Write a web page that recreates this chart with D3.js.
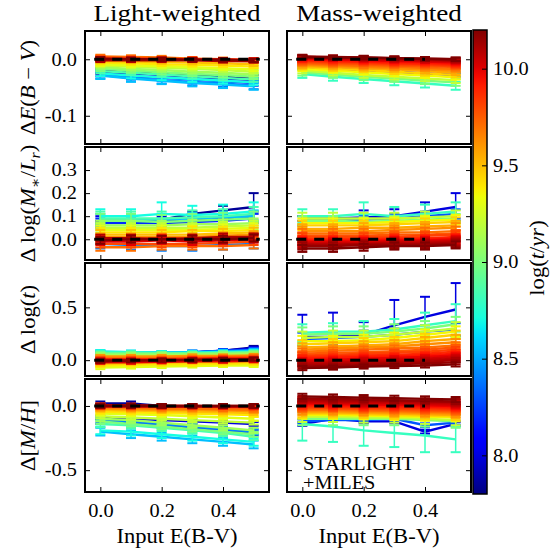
<!DOCTYPE html>
<html>
<head>
<meta charset="utf-8">
<script src="https://cdn.jsdelivr.net/npm/d3@7"></script>
<style>
  body { margin: 0; background: #fff; }
  svg, svg text { font-family: "Liberation Serif", "Tinos", "Times New Roman", "DejaVu Serif", serif; }
</style>
</head>
<body>
<svg id="chart" width="550" height="553"></svg>
<script>
// ---- data ----
const inputEBV = [0.0, 0.1, 0.2, 0.3, 0.4, 0.5];
const ebvTicks = [0.0, 0.2, 0.4];
const cbarTicks = [8.0, 8.5, 9.0, 9.5, 10.0];
const ticksEBV = [-0.1, 0.0];
const ticksML = [0.0, 0.1, 0.2, 0.3];
const ticksT = [0.0, 0.5];
const ticksMH = [-0.5, 0.0];
const zeroLineLight = [-0.02, 0.52];
const zeroLineMass = [-0.02, 0.40];

// log(t/yr) of each mock, one per line
const lightAges = [7.85, 8.0, 8.2, 8.4, 8.55, 8.7, 8.85, 9.0, 9.1, 9.2, 9.3, 9.4, 9.5, 9.6, 9.7, 9.8, 9.9, 10.0, 10.1, 10.2];
const massAges = [8.0, 8.3, 8.8, 9.0, 9.2, 9.35, 9.45, 9.55, 9.62, 9.7, 9.76, 9.82, 9.88, 9.93, 9.98, 10.03, 10.07, 10.11, 10.15, 10.2];

// light-weighted, Delta E(B-V)
const lightEBV = [
  [-0.020, -0.022, -0.025, -0.027, -0.030, -0.032],
  [-0.022, -0.025, -0.028, -0.031, -0.034, -0.037],
  [-0.025, -0.030, -0.033, -0.036, -0.039, -0.042],
  [-0.028, -0.033, -0.037, -0.040, -0.043, -0.047],
  [-0.029, -0.034, -0.038, -0.042, -0.045, -0.048],
  [-0.025, -0.029, -0.032, -0.035, -0.038, -0.041],
  [-0.021, -0.024, -0.027, -0.030, -0.033, -0.036],
  [-0.017, -0.020, -0.023, -0.026, -0.028, -0.031],
  [-0.014, -0.017, -0.019, -0.022, -0.024, -0.027],
  [-0.011, -0.013, -0.015, -0.017, -0.019, -0.022],
  [-0.009, -0.011, -0.012, -0.014, -0.016, -0.018],
  [-0.006, -0.007, -0.009, -0.010, -0.011, -0.013],
  [-0.003, -0.004, -0.005, -0.006, -0.007, -0.009],
  [0.003, 0.002, 0.000, -0.001, -0.002, -0.004],
  [0.005, 0.004, 0.003, 0.001, 0.000, -0.002],
  [0.003, 0.002, 0.001, 0.000, -0.001, -0.002],
  [0.001, 0.001, 0.000, 0.000, -0.001, -0.001],
  [0.000, 0.000, 0.000, -0.001, -0.001, -0.002],
  [-0.002, -0.002, -0.002, -0.002, -0.003, -0.003],
  [0.001, 0.000, 0.000, -0.001, -0.001, -0.002]
];
const errLightEBV = [0.004, 0.004, 0.005, 0.006, 0.006, 0.005, 0.004, 0.004, 0.003, 0.003,
  0.003, 0.003, 0.003, 0.003, 0.003, 0.003, 0.003, 0.003, 0.003, 0.003];

// light-weighted, Delta log(M*/Lr)
const lightML = [
  [0.075, 0.080, 0.085, 0.110, 0.125, 0.140],
  [0.080, 0.080, 0.080, 0.085, 0.090, 0.100],
  [0.070, 0.070, 0.070, 0.075, 0.080, 0.090],
  [-0.020, -0.025, -0.030, -0.030, -0.025, -0.020],
  [0.085, 0.085, 0.085, 0.090, 0.095, 0.100],
  [0.100, 0.100, 0.110, 0.105, 0.110, 0.120],
  [0.090, 0.090, 0.090, 0.095, 0.100, 0.110],
  [0.080, 0.080, 0.075, 0.080, 0.085, 0.090],
  [0.060, 0.060, 0.060, 0.065, 0.065, 0.070],
  [0.050, 0.050, 0.050, 0.050, 0.055, 0.060],
  [0.040, 0.040, 0.040, 0.040, 0.045, 0.050],
  [0.030, 0.030, 0.030, 0.035, 0.035, 0.040],
  [0.020, 0.020, 0.020, 0.020, 0.025, 0.030],
  [0.010, 0.010, 0.010, 0.010, 0.015, 0.020],
  [-0.035, -0.035, -0.030, -0.030, -0.030, -0.025],
  [-0.020, -0.020, -0.020, -0.020, -0.015, -0.010],
  [0.000, 0.000, 0.005, 0.000, 0.005, 0.010],
  [-0.010, -0.010, -0.005, -0.010, -0.005, 0.000],
  [0.005, 0.005, 0.000, 0.005, 0.010, 0.010],
  [-0.005, 0.000, 0.000, 0.000, 0.000, 0.005]
];
const errLightML = [[0.005, 0.005, 0.005, 0.01, 0.02, 0.06], 0.02, 0.02, 0.02, 0.025,
  [0.03, 0.03, 0.05, 0.04, 0.04, 0.04], 0.03, 0.03, 0.02, 0.02,
  0.02, 0.02, 0.02, 0.015, 0.015, 0.015, 0.015, 0.015, 0.015, 0.015];

// light-weighted, Delta log(t)
const lightT = [
  [0.050, 0.050, 0.060, 0.070, 0.090, 0.120],
  [0.050, 0.055, 0.060, 0.070, 0.090, 0.110],
  [0.060, 0.060, 0.065, 0.075, 0.090, 0.100],
  [0.070, 0.070, 0.070, 0.075, 0.085, 0.095],
  [0.080, 0.075, 0.070, 0.075, 0.080, 0.090],
  [0.080, 0.075, 0.070, 0.070, 0.075, 0.080],
  [0.070, 0.070, 0.065, 0.065, 0.070, 0.075],
  [0.060, 0.060, 0.060, 0.060, 0.065, 0.070],
  [0.050, 0.050, 0.050, 0.050, 0.055, 0.060],
  [-0.055, -0.050, -0.045, -0.040, -0.040, -0.035],
  [-0.070, -0.065, -0.060, -0.055, -0.050, -0.050],
  [-0.050, -0.045, -0.040, -0.040, -0.035, -0.030],
  [-0.035, -0.030, -0.025, -0.020, -0.020, -0.015],
  [0.035, 0.035, 0.035, 0.040, 0.040, 0.045],
  [0.020, 0.020, 0.020, 0.025, 0.030, 0.035],
  [-0.010, -0.010, -0.005, 0.000, 0.000, 0.005],
  [0.010, 0.010, 0.010, 0.015, 0.020, 0.020],
  [-0.020, -0.020, -0.015, -0.010, -0.010, -0.005],
  [0.000, 0.000, 0.000, 0.005, 0.010, 0.010],
  [-0.010, -0.005, 0.000, 0.000, 0.005, 0.010]
];
const errLightT = [0.015, 0.015, 0.015, 0.015, 0.015, 0.015, 0.015, 0.015, 0.015, 0.015,
  0.015, 0.015, 0.015, 0.015, 0.015, 0.015, 0.015, 0.015, 0.015, 0.015];

// light-weighted, Delta [M/H]
const lightMH = [
  [0.020, 0.020, 0.000, -0.005, -0.005, -0.005],
  [-0.090, -0.100, -0.110, -0.120, -0.130, -0.140],
  [-0.120, -0.130, -0.150, -0.170, -0.190, -0.210],
  [-0.110, -0.120, -0.140, -0.160, -0.180, -0.200],
  [-0.200, -0.220, -0.240, -0.260, -0.280, -0.300],
  [-0.190, -0.200, -0.220, -0.240, -0.260, -0.280],
  [-0.140, -0.150, -0.170, -0.190, -0.210, -0.240],
  [-0.120, -0.140, -0.160, -0.180, -0.200, -0.220],
  [-0.100, -0.110, -0.130, -0.150, -0.170, -0.190],
  [-0.080, -0.090, -0.100, -0.110, -0.120, -0.130],
  [-0.060, -0.065, -0.070, -0.080, -0.090, -0.100],
  [-0.045, -0.050, -0.055, -0.060, -0.065, -0.070],
  [-0.030, -0.035, -0.040, -0.045, -0.050, -0.055],
  [-0.020, -0.025, -0.030, -0.030, -0.035, -0.040],
  [-0.010, -0.015, -0.020, -0.020, -0.025, -0.030],
  [0.005, 0.000, -0.005, -0.005, -0.010, -0.015],
  [0.000, 0.000, 0.000, 0.000, -0.005, -0.005],
  [-0.005, -0.005, -0.005, -0.005, -0.005, -0.005],
  [0.005, 0.005, 0.000, 0.000, 0.000, 0.000],
  [0.000, 0.000, 0.000, 0.000, 0.000, 0.000]
];
const errLightMH = [[0.015, 0.015, 0.005, 0.005, 0.005, 0.005], 0.015, 0.02, 0.02, 0.03, 0.03, 0.025, 0.02, 0.02, 0.015,
  0.015, 0.015, 0.015, 0.015, 0.015, 0.015, 0.015, 0.015, 0.015, 0.015];

// mass-weighted, Delta E(B-V)
const massEBV = [
  [-0.014, -0.017, -0.019, -0.022, -0.025, -0.028],
  [-0.010, -0.012, -0.014, -0.016, -0.018, -0.020],
  [-0.026, -0.031, -0.035, -0.039, -0.043, -0.047],
  [-0.023, -0.027, -0.031, -0.034, -0.038, -0.041],
  [-0.020, -0.024, -0.028, -0.031, -0.034, -0.037],
  [-0.017, -0.020, -0.023, -0.026, -0.029, -0.032],
  [-0.014, -0.017, -0.019, -0.022, -0.025, -0.028],
  [-0.012, -0.014, -0.016, -0.018, -0.021, -0.024],
  [-0.010, -0.012, -0.014, -0.016, -0.018, -0.020],
  [-0.008, -0.010, -0.012, -0.013, -0.015, -0.017],
  [-0.006, -0.008, -0.009, -0.011, -0.012, -0.014],
  [-0.004, -0.006, -0.007, -0.009, -0.010, -0.012],
  [-0.002, -0.004, -0.005, -0.007, -0.008, -0.010],
  [-0.001, -0.002, -0.004, -0.005, -0.006, -0.008],
  [0.001, 0.000, -0.002, -0.003, -0.004, -0.006],
  [0.002, 0.001, 0.000, -0.002, -0.003, -0.004],
  [0.003, 0.002, 0.001, 0.000, -0.001, -0.003],
  [0.004, 0.003, 0.002, 0.001, 0.000, -0.002],
  [0.005, 0.004, 0.003, 0.002, 0.001, 0.000],
  [0.004, 0.003, 0.003, 0.002, 0.001, 0.000]
];
const errMassEBV = [0.003, 0.003, 0.007, 0.006, 0.005, 0.004, 0.004, 0.004, 0.003, 0.003,
  0.003, 0.003, 0.003, 0.003, 0.003, 0.003, 0.003, 0.003, 0.003, 0.003];

// mass-weighted, Delta log(M*/Lr)
const massML = [
  [0.090, 0.090, 0.095, 0.100, 0.120, 0.140],
  [0.080, 0.080, 0.085, 0.090, 0.100, 0.110],
  [0.100, 0.100, 0.110, 0.100, 0.110, 0.120],
  [0.080, 0.080, 0.075, 0.080, 0.085, 0.090],
  [0.090, 0.090, 0.090, 0.090, 0.095, 0.100],
  [0.070, 0.070, 0.070, 0.075, 0.080, 0.085],
  [0.060, 0.060, 0.060, 0.065, 0.070, 0.075],
  [0.045, 0.045, 0.050, 0.050, 0.055, 0.060],
  [0.035, 0.035, 0.035, 0.040, 0.045, 0.050],
  [0.025, 0.025, 0.025, 0.030, 0.030, 0.035],
  [0.015, 0.015, 0.015, 0.020, 0.020, 0.025],
  [0.010, 0.010, 0.010, 0.010, 0.015, 0.020],
  [0.000, 0.000, 0.000, 0.005, 0.005, 0.010],
  [-0.005, -0.005, -0.005, 0.000, 0.000, 0.005],
  [-0.010, -0.010, -0.010, -0.005, -0.005, 0.000],
  [-0.015, -0.015, -0.015, -0.010, -0.010, -0.005],
  [-0.020, -0.020, -0.020, -0.015, -0.015, -0.010],
  [-0.025, -0.025, -0.020, -0.020, -0.020, -0.015],
  [-0.030, -0.030, -0.025, -0.025, -0.025, -0.020],
  [-0.040, -0.040, -0.035, -0.030, -0.030, -0.025]
];
const errMassML = [[0.01, 0.01, 0.03, 0.03, 0.04, 0.06], 0.02, [0.03, 0.03, 0.05, 0.04, 0.04, 0.04], 0.02, 0.025,
  0.02, 0.02, 0.02, 0.02, 0.02, 0.015, 0.015, 0.015, 0.015, 0.015, 0.015, 0.015, 0.015, 0.015, 0.015];

// mass-weighted, Delta log(t)
const massT = [
  [0.220, 0.220, 0.240, 0.330, 0.410, 0.480],
  [0.200, 0.210, 0.220, 0.240, 0.270, 0.290],
  [0.260, 0.270, 0.270, 0.290, 0.330, 0.370],
  [0.240, 0.250, 0.250, 0.270, 0.300, 0.340],
  [0.210, 0.220, 0.220, 0.240, 0.270, 0.300],
  [0.180, 0.180, 0.190, 0.210, 0.240, 0.270],
  [0.150, 0.160, 0.170, 0.180, 0.210, 0.240],
  [0.120, 0.130, 0.140, 0.150, 0.180, 0.200],
  [0.100, 0.110, 0.120, 0.130, 0.150, 0.170],
  [0.080, 0.090, 0.100, 0.110, 0.120, 0.140],
  [0.060, 0.070, 0.075, 0.085, 0.100, 0.120],
  [0.045, 0.050, 0.060, 0.070, 0.080, 0.100],
  [0.030, 0.035, 0.045, 0.050, 0.060, 0.080],
  [0.015, 0.020, 0.030, 0.035, 0.045, 0.060],
  [0.000, 0.005, 0.015, 0.020, 0.030, 0.045],
  [-0.015, -0.010, 0.000, 0.005, 0.015, 0.030],
  [-0.030, -0.025, -0.015, -0.010, 0.000, 0.015],
  [-0.045, -0.040, -0.030, -0.025, -0.015, 0.000],
  [-0.060, -0.055, -0.045, -0.040, -0.030, -0.020],
  [-0.075, -0.070, -0.060, -0.055, -0.050, -0.040]
];
const errMassT = [[0.21, 0.23, 0.12, 0.24, 0.19, 0.25], 0.06, [0.08, 0.08, 0.10, 0.10, 0.12, 0.16], 0.07, 0.06,
  0.05, 0.04, 0.04, 0.03, 0.03, 0.025, 0.025, 0.02, 0.02, 0.02, 0.02, 0.02, 0.02, 0.02, 0.02];

// mass-weighted, Delta [M/H]
const massMH = [
  [-0.140, -0.100, -0.120, -0.120, -0.200, -0.140],
  [-0.120, -0.110, -0.110, -0.100, -0.150, -0.130],
  [-0.140, -0.160, -0.190, -0.210, -0.230, -0.260],
  [-0.100, -0.100, -0.100, -0.100, -0.110, -0.120],
  [-0.085, -0.085, -0.090, -0.090, -0.100, -0.110],
  [-0.070, -0.070, -0.075, -0.080, -0.085, -0.090],
  [-0.060, -0.060, -0.065, -0.070, -0.075, -0.080],
  [-0.050, -0.050, -0.055, -0.060, -0.065, -0.070],
  [-0.040, -0.040, -0.045, -0.050, -0.055, -0.060],
  [-0.030, -0.030, -0.035, -0.040, -0.045, -0.050],
  [-0.020, -0.020, -0.025, -0.030, -0.035, -0.040],
  [-0.010, -0.015, -0.020, -0.020, -0.025, -0.030],
  [0.000, -0.005, -0.010, -0.010, -0.015, -0.020],
  [0.010, 0.005, 0.000, 0.000, -0.005, -0.010],
  [0.020, 0.015, 0.010, 0.010, 0.005, 0.000],
  [0.030, 0.025, 0.020, 0.020, 0.015, 0.010],
  [0.040, 0.035, 0.030, 0.030, 0.025, 0.020],
  [0.050, 0.045, 0.040, 0.040, 0.035, 0.030],
  [0.060, 0.055, 0.050, 0.045, 0.040, 0.035],
  [0.075, 0.070, 0.065, 0.060, 0.055, 0.050]
];
const errMassMH = [0.015, 0.015, [0.13, 0.12, 0.12, 0.11, 0.13, 0.10], 0.05, 0.04,
  0.03, 0.03, 0.025, 0.025, 0.02, 0.02, 0.02, 0.02, 0.02, 0.02, 0.02, 0.02, 0.02, 0.02, 0.02];

// ---- layout ----
const SX = 1.13;               // horizontal stretch of the original lettering
const cols = [[85, 269], [287, 471]];
const rowTops = [31, 147, 263, 379];
const rowH = 113;
const cbar = { x: 473, w: 14, top: 30, bottom: 494 };
const FONT = "'Liberation Serif', Tinos, 'Times New Roman', 'DejaVu Serif', serif";

const rows = [
  { domain: [-0.15, 0.05], ticks: ticksEBV, light: lightEBV, lightErr: errLightEBV, mass: massEBV, massErr: errMassEBV,
    label: [["Δ", ""], ["E", "i"], ["(", ""], ["B", "i"], [" − ", ""], ["V", "i"], [")", ""]] },
  { domain: [-0.09, 0.40], ticks: ticksML, light: lightML, lightErr: errLightML, mass: massML, massErr: errMassML,
    label: [["Δ log(", ""], ["M", "i"], ["∗", "s"], ["/", ""], ["L", "i"], ["r", "si"], [")", ""]] },
  { domain: [-0.15, 0.92], ticks: ticksT, light: lightT, lightErr: errLightT, mass: massT, massErr: errMassT,
    label: [["Δ log(", ""], ["t", "i"], [")", ""]] },
  { domain: [-0.67, 0.21], ticks: ticksMH, light: lightMH, lightErr: errLightMH, mass: massMH, massErr: errMassMH,
    label: [["Δ[", ""], ["M", "i"], ["/", ""], ["H", "i"], ["]", ""]] }
];

// jet colour map on log(t/yr)
const jetR = d3.scaleLinear().domain([0, 0.35, 0.66, 0.89, 1]).range([0, 0, 1, 1, 0.5]).clamp(true);
const jetG = d3.scaleLinear().domain([0, 0.125, 0.375, 0.64, 0.91, 1]).range([0, 0, 1, 1, 0, 0]).clamp(true);
const jetB = d3.scaleLinear().domain([0, 0.11, 0.34, 0.65, 1]).range([0.5, 1, 1, 0, 0]).clamp(true);
const ageNorm = d3.scaleLinear().domain([7.8, 10.2]).range([0, 1]).clamp(true);
function jet(t) {
  const f = ageNorm(t);
  return d3.rgb(jetR(f) * 255, jetG(f) * 255, jetB(f) * 255).formatHex();
}

const svg = d3.select("#chart").attr("font-family", FONT);
const fmt = d => d.toFixed(1);

function mathText(parent, segs, size, transform, anchor) {
  const t = parent.append("text")
    .attr("transform", transform)
    .attr("font-size", size)
    .attr("text-anchor", anchor || "middle");
  let shifted = false;
  segs.forEach(([s, st]) => {
    const sp = t.append("tspan").text(s);
    if (st.includes("i")) sp.attr("font-style", "italic");
    if (st.includes("s")) {
      sp.attr("font-size", size * 0.7).attr("dy", size * 0.25);
      shifted = true;
    } else if (shifted) {
      sp.attr("dy", -size * 0.25);
      shifted = false;
    }
  });
  return t;
}

// stretch axis labels the same way as the rest of the lettering
function stretchTicks(axisG, shiftX) {
  axisG.selectAll("text").each(function() {
    const el = d3.select(this);
    const x0 = shiftX ? +el.attr("x") : 0;
    el.attr("x", 0).attr("transform", "translate(" + x0 + ",0) scale(" + SX + ",1)");
  });
}

function styleAxis(g) {
  g.attr("font-family", FONT).attr("font-size", 18);
  g.select(".domain").remove();
  g.selectAll(".tick line").attr("stroke", "#000").attr("stroke-width", 1);
  g.selectAll(".tick text").attr("fill", "#000");
}

rows.forEach((row, r) => {
  const top = rowTops[r];
  const bottom = top + rowH;
  [0, 1].forEach(c => {
    const x = d3.scaleLinear().domain([-0.05, 0.55]).range(cols[c]);
    const y = d3.scaleLinear().domain(row.domain).range([bottom, top]);
    const ages = c === 0 ? lightAges : massAges;
    const vals = c === 0 ? row.light : row.mass;
    const errs = c === 0 ? row.lightErr : row.massErr;
    const g = svg.append("g");

    const line = d3.line().x((d, j) => x(inputEBV[j])).y(d => y(d));

    vals.forEach((v, i) => {
      const lg = g.append("g").attr("stroke", jet(ages[i])).attr("fill", "none");
      lg.append("path").attr("d", line(v)).attr("stroke-width", 2.4);
      v.forEach((val, j) => {
        const e = Array.isArray(errs[i]) ? errs[i][j] : errs[i];
        const xx = x(inputEBV[j]);
        lg.append("line").attr("x1", xx).attr("x2", xx)
          .attr("y1", y(val - e)).attr("y2", y(val + e)).attr("stroke-width", 1.5);
        [val - e, val + e].forEach(yy => {
          lg.append("line").attr("x1", xx - 5).attr("x2", xx + 5)
            .attr("y1", y(yy)).attr("y2", y(yy)).attr("stroke-width", 2);
        });
      });
    });

    const zl = c === 0 ? zeroLineLight : zeroLineMass;
    g.append("line")
      .attr("x1", x(zl[0])).attr("x2", x(zl[1]))
      .attr("y1", y(0)).attr("y2", y(0))
      .attr("stroke", "#000").attr("stroke-width", 3)
      .attr("stroke-dasharray", "10,8");

    // ticks on all four sides, pointing in
    const left = g.append("g").attr("transform", "translate(" + cols[c][0] + ",0)")
      .call(d3.axisLeft(y).tickValues(row.ticks).tickSize(-5).tickPadding(8)
        .tickFormat(c === 0 ? fmt : () => ""))
      .call(styleAxis);
    if (c === 0) stretchTicks(left, true);
    g.append("g").attr("transform", "translate(" + cols[c][1] + ",0)")
      .call(d3.axisRight(y).tickValues(row.ticks).tickSize(-5).tickFormat(() => ""))
      .call(styleAxis);
    g.append("g").attr("transform", "translate(0," + top + ")")
      .call(d3.axisTop(x).tickValues(ebvTicks).tickSize(-5).tickFormat(() => ""))
      .call(styleAxis);
    const bot = g.append("g").attr("transform", "translate(0," + bottom + ")")
      .call(d3.axisBottom(x).tickValues(ebvTicks).tickSize(-5).tickPadding(12)
        .tickFormat(r === rows.length - 1 ? fmt : () => ""))
      .call(styleAxis);
    if (r === rows.length - 1) stretchTicks(bot, false);

    g.append("rect")
      .attr("x", cols[c][0]).attr("y", top)
      .attr("width", cols[c][1] - cols[c][0]).attr("height", rowH)
      .attr("fill", "none").attr("stroke", "#000").attr("stroke-width", 2);

    if (c === 0) {
      mathText(svg, row.label, 20,
        "translate(35," + (top + rowH / 2) + ") rotate(-90) scale(" + SX + ",1)");
    }
  });
});

// column titles and x labels
[["Light-weighted", 0], ["Mass-weighted", 1]].forEach(([t, c]) => {
  const cx = (cols[c][0] + cols[c][1]) / 2;
  svg.append("text").attr("text-anchor", "middle").attr("font-size", 24)
    .attr("transform", "translate(" + cx + ",21) scale(" + SX + ",1)").text(t);
  svg.append("text").attr("text-anchor", "middle").attr("font-size", 20)
    .attr("transform", "translate(" + cx + ",543) scale(" + SX + ",1)").text("Input E(B-V)");
});

svg.append("text").attr("font-size", 18)
  .attr("transform", "translate(303,470) scale(" + SX + ",1)").text("STARLIGHT");
svg.append("text").attr("font-size", 18)
  .attr("transform", "translate(303,489) scale(" + SX + ",1)").text("+MILES");

// colour bar
const cScale = d3.scaleLinear().domain([7.8, 10.2]).range([cbar.bottom, cbar.top]);
const grad = svg.append("defs").append("linearGradient")
  .attr("id", "jetgrad").attr("x1", 0).attr("y1", 1).attr("x2", 0).attr("y2", 0);
d3.range(0, 1.0001, 0.02).forEach(f => {
  grad.append("stop").attr("offset", f).attr("stop-color", jet(7.8 + 2.4 * f));
});
svg.append("rect")
  .attr("x", cbar.x).attr("y", cbar.top)
  .attr("width", cbar.w).attr("height", cbar.bottom - cbar.top)
  .attr("fill", "url(#jetgrad)").attr("stroke", "#000").attr("stroke-width", 1.5);
const cax = svg.append("g").attr("transform", "translate(" + (cbar.x + cbar.w) + ",0)")
  .call(d3.axisRight(cScale).tickValues(cbarTicks).tickSize(-5).tickPadding(6).tickFormat(fmt))
  .call(styleAxis);
stretchTicks(cax, true);
mathText(svg, [["log(", ""], ["t", "i"], ["/", ""], ["yr", "i"], [")", ""]], 20,
  "translate(544,258) rotate(-90) scale(" + SX + ",1)");
</script>
</body>
</html>
